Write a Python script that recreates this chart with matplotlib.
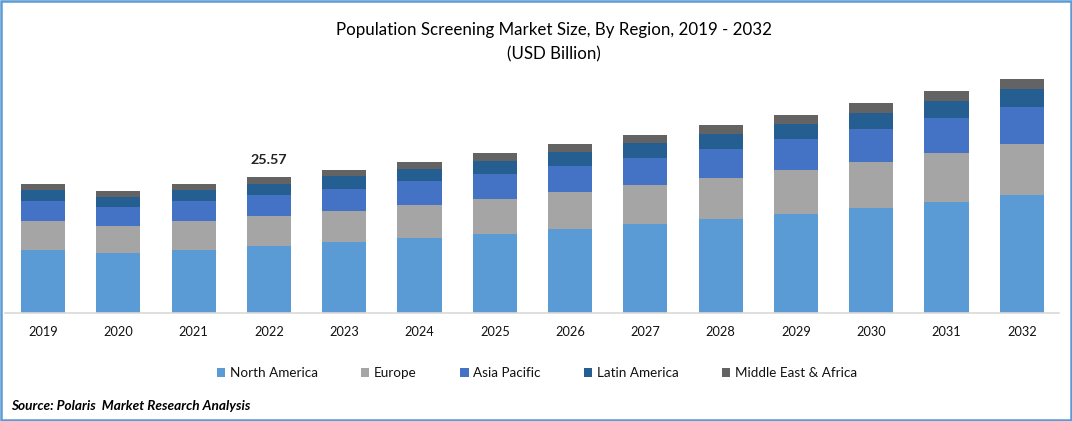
import matplotlib
matplotlib.use("Agg")
import matplotlib.pyplot as plt
from matplotlib.patches import Rectangle
import numpy as np

plt.rcParams['font.family'] = ['Lato', 'DejaVu Sans']

years = ['2019','2020','2021','2022','2023','2024','2025','2026','2027','2028','2029','2030','2031','2032']
north_america = [11.84,11.28,11.84,12.60,13.35,14.10,14.85,15.79,16.73,17.67,18.61,19.74,20.87,22.18]
europe = [5.45,5.08,5.45,5.64,5.83,6.20,6.58,6.96,7.33,7.71,8.27,8.65,9.21,9.59]
asia_pacific = [3.76,3.57,3.76,3.95,4.14,4.51,4.70,4.89,5.08,5.45,5.83,6.20,6.58,6.96]
latin_america = [2.07,1.88,2.07,2.07,2.44,2.26,2.44,2.63,2.82,2.82,2.82,3.01,3.20,3.38]
mea = [1.13,1.13,1.13,1.32,1.13,1.32,1.50,1.50,1.50,1.69,1.69,1.88,1.88,1.88]
series_names = ['North America','Europe','Asia Pacific','Latin America','Middle East & Africa']
series_colors = ['#5B9BD5','#A5A5A5','#4472C4','#255E91','#636363']
annotated_year = '2022'
annotated_label = '25.57'

W, H = 1072, 421
fig = plt.figure(figsize=(W/100, H/100), dpi=100, facecolor='white')
ax = fig.add_axes([5.4/W, 1-313/H, 1054/W, 243/H])
x = np.arange(len(years))
bottom = np.zeros(len(years))
for vals, name, col in zip([north_america,europe,asia_pacific,latin_america,mea], series_names, series_colors):
    ax.bar(x, vals, bottom=bottom, width=0.586, color=col, label=name, linewidth=0)
    bottom += np.array(vals)

ax.set_xlim(-0.5, len(years)-0.5)
ax.set_ylim(0, 45.69)
for s in ['top','left','right']:
    ax.spines[s].set_visible(False)
ax.spines['bottom'].set_color('#D9D9D9')
ax.spines['bottom'].set_linewidth(1.2)
ax.set_yticks([])
ax.set_xticks(x, years)
ax.tick_params(axis='x', length=0, pad=9.5, labelsize=9.2, labelcolor='#111111')

i = years.index(annotated_year)
ax.annotate(annotated_label, (x[i], bottom[i]), xytext=(0, 11), textcoords='offset pixels',
            ha='center', va='bottom', fontsize=10.4, fontweight='bold', color='#222222')

fig.text(553.5/W, 1-30.5/H, 'Population Screening Market Size, By Region, 2019 - 2032',
         ha='center', va='center', fontsize=12.2, color='black')
fig.text(553.5/W, 1-54/H, '(USD Billion)', ha='center', va='center', fontsize=12.2, color='black')

leg = fig.legend(loc='center', bbox_to_anchor=(537/W, 1-373/H), ncol=5, frameon=False,
                 fontsize=9.7, handlelength=0.6, handleheight=0.6, handletextpad=0.33,
                 columnspacing=3.25, borderpad=0, labelcolor='#111111')

fig.text(11/W, 1-405.5/H, 'Source: Polaris  Market Research Analysis', ha='left', va='center',
         fontsize=9.8, fontweight='bold', fontstyle='italic', color='black')

fig.add_artist(Rectangle((1.25/W, 1.25/H), 1-2.5/W, 1-2.5/H, transform=fig.transFigure,
                         fill=False, edgecolor='#5B9BD5', linewidth=1.8))
fig.savefig('out.png', dpi=100, facecolor='white')
